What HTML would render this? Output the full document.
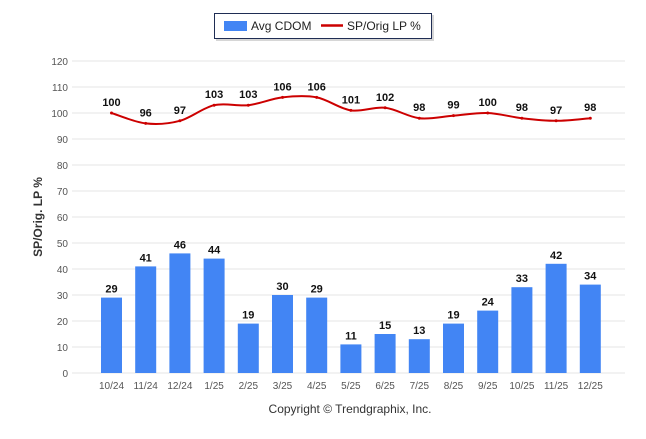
<!DOCTYPE html>
<html><head><meta charset="utf-8"><style>
body{margin:0;background:#fff;font-family:"Liberation Sans",Arial,sans-serif}
svg text{font-family:"Liberation Sans",Arial,sans-serif}
</style></head><body>
<svg id="c" width="646" height="434">
<g>
<rect x="216" y="15" width="218" height="26" fill="#bbb" opacity="0.6"/>
<rect x="214.5" y="13.5" width="217" height="25" fill="#fff" stroke="#1f2d54" stroke-width="1"/>
<rect x="224" y="21" width="23" height="10" fill="#4285f4"/>
<text x="251" y="30" font-size="12" fill="#222">Avg CDOM</text>
<line x1="321" y1="25.5" x2="343" y2="25.5" stroke="#c00" stroke-width="2.5"/>
<text x="347" y="30" font-size="12" fill="#222">SP/Orig LP %</text>
</g>
<text transform="translate(42,217) rotate(-90)" text-anchor="middle" font-size="12" font-weight="bold" fill="#333">SP/Orig. LP %</text>
<g id="grid"></g><g id="bars"></g><g id="line"></g>
<text x="350" y="413" text-anchor="middle" font-size="12" fill="#333">Copyright © Trendgraphix, Inc.</text>
</svg>
<script>
const categories=["10/24","11/24","12/24","1/25","2/25","3/25","4/25","5/25","6/25","7/25","8/25","9/25","10/25","11/25","12/25"];
const cdom=[29,41,46,44,19,30,29,11,15,13,19,24,33,42,34];
const sp=[100,96,97,103,103,106,106,101,102,98,99,100,98,97,98];
const yTicks=[0,10,20,30,40,50,60,70,80,90,100,110,120];
const NS="http://www.w3.org/2000/svg";
const y=v=>373-v*2.6;
const x=i=>111.5+i*34.2;
function mk(p,t,a){const e=document.createElementNS(NS,t);for(const k in a)e.setAttribute(k,a[k]);document.getElementById(p).appendChild(e);return e;}
yTicks.forEach(v=>{
 const l=mk('grid','line',{x1:72,x2:625,y1:y(v),y2:y(v),stroke:'#e6e6e6'});
 
 
 const t=mk('grid','text',{x:68,y:y(v)+4,'text-anchor':'end','font-size':10,fill:'#555'});
 t.textContent=v;
 
 
});
categories.forEach((c,i)=>{
 const t=mk('grid','text',{x:x(i),y:389,'text-anchor':'middle','font-size':10,fill:'#555'});
 t.textContent=c;
 
 
 const b=mk('bars','rect',{x:x(i)-10.5,y:y(cdom[i]),width:21,height:cdom[i]*2.6,fill:'#4285f4'});
 
 
 const bl=mk('bars','text',{x:x(i),y:y(cdom[i])-5,'text-anchor':'middle','font-size':11,'font-weight':'bold',fill:'#111'});
 bl.textContent=cdom[i];
 
 
});
const pts=sp.map((v,i)=>[x(i),y(v)]);
let d='M'+pts[0][0]+','+pts[0][1];
for(let i=0;i<pts.length-1;i++){
 const p0=pts[Math.max(0,i-1)],p1=pts[i],p2=pts[i+1],p3=pts[Math.min(pts.length-1,i+2)];
 const c1=[p1[0]+(p2[0]-p0[0])/6,p1[1]+(p2[1]-p0[1])/6],c2=[p2[0]-(p3[0]-p1[0])/6,p2[1]-(p3[1]-p1[1])/6];
 d+=` C${c1[0]},${c1[1]} ${c2[0]},${c2[1]} ${p2[0]},${p2[1]}`;
}
const ln=mk('line','path',{d:d,fill:'none',stroke:'#c00',"stroke-width":2});


pts.forEach((p,i)=>{
 const c=mk('line','circle',{cx:p[0],cy:p[1],r:1.5,fill:'#c00'});
 
 
 const t=mk('line','text',{x:p[0],y:p[1]-7,'text-anchor':'middle','font-size':11,'font-weight':'bold',fill:'#111'});
 t.textContent=sp[i];
 
 
});
</script>
</body></html>
